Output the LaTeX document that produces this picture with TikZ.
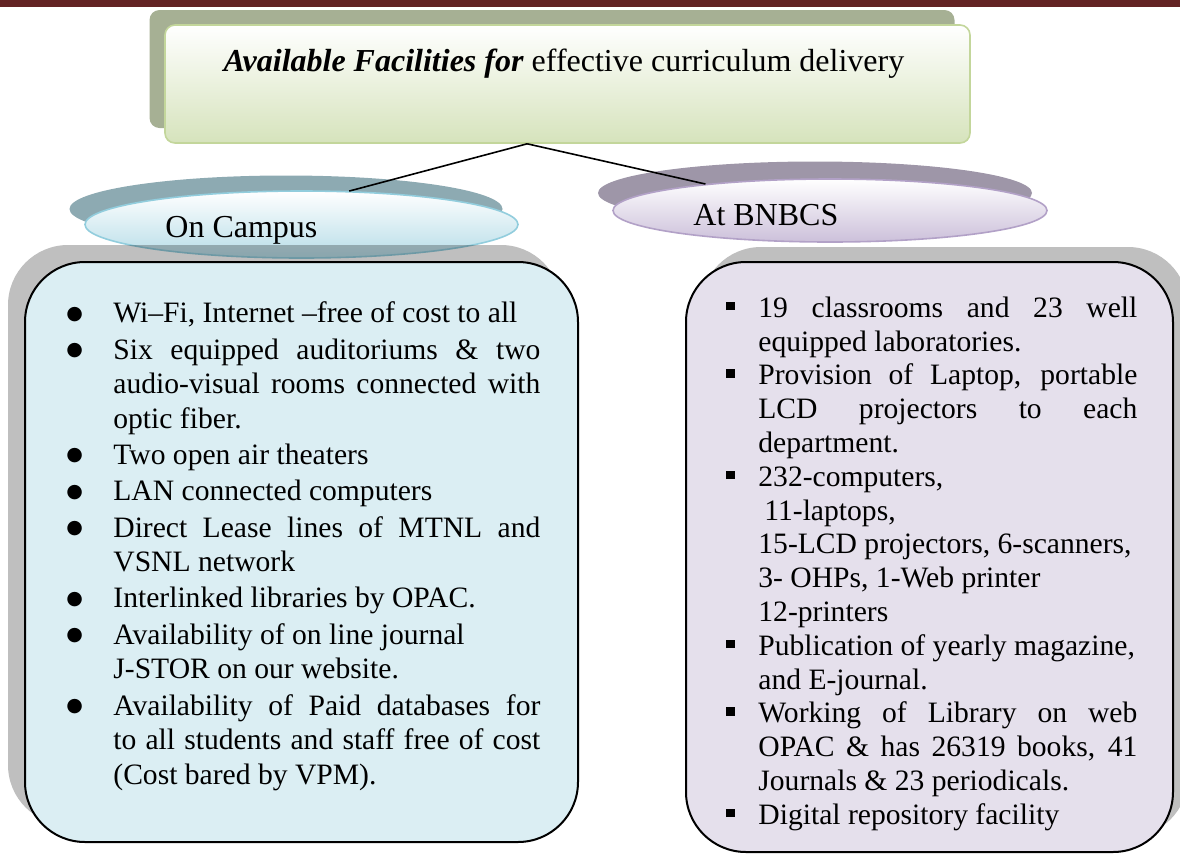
\documentclass[tikz,border=0pt]{standalone}
\usepackage{fontspec}
\setmainfont{Liberation Serif}
\newfontfamily\bulletfont{DejaVu Sans}
\usetikzlibrary{shapes.geometric}

\definecolor{topbar}{RGB}{99,35,36}
\definecolor{titleshade}{RGB}{166,176,148}
\definecolor{titlefill}{RGB}{214,227,188}
\definecolor{titleline}{RGB}{195,214,155}
\definecolor{campusshade}{RGB}{141,170,178}
\definecolor{campusfill}{RGB}{183,221,232}
\definecolor{campusline}{RGB}{146,205,221}
\definecolor{bnbcsshade}{RGB}{158,150,168}
\definecolor{bnbcsfill}{RGB}{204,192,218}
\definecolor{bnbcsline}{RGB}{178,161,199}
\definecolor{boxshade}{RGB}{191,191,191}
\definecolor{campusbg}{RGB}{219,238,243}
\definecolor{bnbcsbg}{RGB}{229,224,236}

\hbadness=10000
\hyphenpenalty=10000
\exhyphenpenalty=10000

\newcommand{\rndbullet}{\raisebox{1.9pt}{\fontsize{9.5}{9.5}\bulletfont ●}}
\newcommand{\sqbullet}{\raisebox{3.5pt}{\rule{4.2pt}{4.2pt}}}
% list: label, label gap, item gap
\newenvironment{factlist}[3]{\list{#1}{\setlength{\leftmargin}{#2}\setlength{\labelsep}{#2}%
  \setlength{\labelwidth}{0pt}\setlength{\itemindent}{0pt}\setlength{\topsep}{0pt}%
  \setlength{\partopsep}{0pt}\setlength{\parsep}{0pt}\setlength{\itemsep}{#3}%
  \def\makelabel##1{\rlap{##1}}}}{\endlist}

\begin{document}
\begin{tikzpicture}[x=0.5pt,y=-0.5pt,
  titlebox/.style={rectangle,rounded corners=5pt,minimum width=402.5pt,minimum height=59pt,inner sep=0pt},
  ovalbox/.style={ellipse,minimum width=216.5pt,minimum height=33.5pt,inner sep=0pt},
  bigbox/.style={rectangle,rounded corners=30pt,inner sep=0pt},
  lbl/.style={inner sep=0pt,font=\fontsize{16}{19}\selectfont},
  listtext/.style={inner sep=0pt,anchor=north west,align=justify},
  link/.style={line width=0.8pt}]

\useasboundingbox (0,0) rectangle (1180,853);
\fill[topbar] (0,0) rectangle (1180,7);

% headline box
\node[titlebox,fill=titleshade] (titleshadow) at (552,69) {};
\node[titlebox,draw=titleline,line width=0.8pt,top color=white,bottom color=titlefill] (title) at (567.5,84) {};
\node[lbl,anchor=base] (titletext) at (564,71) {\textbf{\textit{Available Facilities for}} effective curriculum delivery};

% the two ovals
\node[ovalbox,fill=campusshade] (campusshadow) at (286,209) {};
\node[ovalbox,draw=campusline,line width=0.8pt,top color=white,bottom color=campusfill] (oncampus) at (301.5,224.5) {};
\node[lbl,anchor=base west] (campustext) at (165,237) {On Campus};

\node[ovalbox,minimum width=217pt,minimum height=31.5pt,fill=bnbcsshade] (bnbcsshadow) at (815,193) {};
\node[ovalbox,minimum width=217pt,minimum height=31.5pt,draw=bnbcsline,line width=0.8pt,top color=white,bottom color=bnbcsfill] (bnbcs) at (830,210.5) {};
\node[lbl,anchor=base west] (bnbcstext) at (693,225) {At BNBCS};

% shadows of the big boxes
\begin{scope}[blend mode=multiply]
\node[bigbox,fill=boxshade,minimum width=276.5pt,minimum height=290pt] (campusshadowbox) at (284.5,535) {};
\node[bigbox,fill=boxshade,minimum width=243.5pt,minimum height=295pt] (bnbcsshadowbox) at (944.5,542) {};
\end{scope}

\node[bigbox,draw,line width=1pt,fill=campusbg,minimum width=276.5pt,minimum height=290pt] (campusbox) at (301.5,552) {};
\node[bigbox,draw,line width=1pt,fill=bnbcsbg,minimum width=243.5pt,minimum height=295pt] (bnbcsbox) at (929.5,557) {};

% facility lists
\node[listtext,text width=237pt,font=\fontsize{14.8}{17.25}\selectfont] (campuslist) at (66,288) {%
\begin{factlist}{\rndbullet}{23.5pt}{0.9pt}
\item Wi–Fi, Internet –free of cost to all
\item Six equipped auditoriums \& two\linebreak audio-visual rooms connected with\linebreak optic fiber.
\item Two open air theaters
\item LAN connected computers
\item Direct Lease lines of MTNL and\linebreak VSNL network
\item Interlinked libraries by OPAC.
\item Availability of on line journal\newline J-STOR on our website.
\item Availability of Paid databases for\linebreak to all students and staff free of cost\linebreak (Cost bared by VPM).
\end{factlist}};

\node[listtext,text width=205.5pt,font=\fontsize{14.8}{16.9}\selectfont] (bnbcslist) at (726,283) {%
\begin{factlist}{\sqbullet}{16pt}{0pt}
\item 19 classrooms and 23 well\linebreak equipped laboratories.
\item Provision of Laptop, portable\linebreak LCD projectors to each\linebreak department.
\item 232-computers,\newline\hspace*{3pt}11-laptops,\newline 15-LCD projectors, 6-scanners,\newline 3- OHPs, 1-Web printer\newline 12-printers
\item Publication of yearly magazine,\newline and E-journal.
\item Working of Library on web\linebreak OPAC \& has 26319 books, 41\linebreak Journals \& 23 periodicals.
\item Digital repository facility
\end{factlist}};

% links from headline to ovals
\draw[link] (title.-124.5) -- (oncampus.35);
\draw[link] (title.-124.5) -- (bnbcs.168);
\end{tikzpicture}
\end{document}
